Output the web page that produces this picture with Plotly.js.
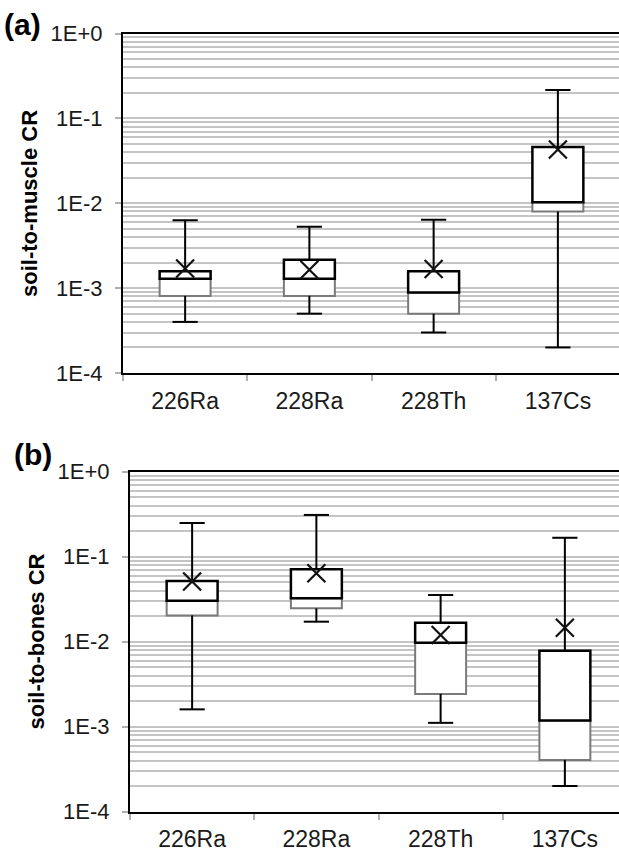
<!DOCTYPE html>
<html>
<head>
<meta charset="utf-8">
<script src="https://cdn.plot.ly/plotly-3.0.1.min.js"></script>
<style>
html,body{margin:0;padding:0;overflow:hidden;background:#fff;width:619px;height:853px;}
#chart{width:628px;height:853px;}
</style>
</head>
<body>
<div id="chart"></div>
<script>
// ---- data ----
const categories = ['226Ra', '228Ra', '228Th', '137Cs'];

// (a) soil-to-muscle CR
const muscleMin    = [4.0e-4, 5.0e-4, 3.0e-4, 2.0e-4];
const muscleQ1     = [8.1e-4, 8.1e-4, 5.0e-4, 8.0e-3];
const muscleMedian = [1.29e-3, 1.29e-3, 8.9e-4, 1.03e-2];
const muscleQ3     = [1.58e-3, 2.16e-3, 1.58e-3, 4.6e-2];
const muscleMax    = [6.3e-3, 5.3e-3, 6.4e-3, 0.216];
const muscleMean   = [1.7e-3, 1.65e-3, 1.68e-3, 4.3e-2];

// (b) soil-to-bones CR
const bonesMin    = [1.6e-3, 1.72e-2, 1.11e-3, 2.0e-4];
const bonesQ1     = [2.04e-2, 2.47e-2, 2.43e-3, 4.07e-4];
const bonesMedian = [3.03e-2, 3.24e-2, 9.7e-3, 1.18e-3];
const bonesQ3     = [5.18e-2, 7.1e-2, 1.67e-2, 7.8e-3];
const bonesMax    = [0.249, 0.31, 0.0354, 0.167];
const bonesMean   = [5.1e-2, 6.4e-2, 1.2e-2, 1.46e-2];

const yTickVals = [1e-4, 1e-3, 1e-2, 1e-1, 1];
const yTickText = ['1E-4', '1E-3', '1E-2', '1E-1', '1E+0'];

// ---- build traces ----
function panelTraces(mn, q1, med, q3, mx, mean, xa, ya) {
  const boxW = 0.41;
  const lower = {
    type: 'bar', x: categories, base: q1, y: q1.map((v, i) => med[i] - v),
    width: boxW, xaxis: xa, yaxis: ya, hoverinfo: 'skip',
    marker: {color: '#ffffff', line: {color: '#7a7a7a', width: 2}}
  };
  const upper = {
    type: 'bar', x: categories, base: med, y: med.map((v, i) => q3[i] - v),
    width: boxW, xaxis: xa, yaxis: ya, hoverinfo: 'skip',
    marker: {color: '#ffffff', line: {color: '#000000', width: 2.5}}
  };
  const wx = [], wy = [];
  categories.forEach((c, i) => {
    wx.push(c, c, null, c, c, null);
    wy.push(q3[i], mx[i], null, q1[i], mn[i], null);
  });
  const whiskers = {
    type: 'scatter', mode: 'lines', x: wx, y: wy, xaxis: xa, yaxis: ya,
    line: {color: '#000', width: 2}, hoverinfo: 'skip', connectgaps: false
  };
  const caps = {
    type: 'scatter', mode: 'markers', x: categories.concat(categories), y: mx.concat(mn),
    xaxis: xa, yaxis: ya, hoverinfo: 'skip',
    marker: {symbol: 'line-ew-open', size: 18, color: '#000', line: {color: '#000', width: 2}}
  };
  const means = {
    type: 'scatter', mode: 'markers', x: categories, y: mean, xaxis: xa, yaxis: ya,
    hoverinfo: 'skip',
    marker: {symbol: 'x-thin-open', size: 18, color: '#111', line: {color: '#111', width: 2.2}}
  };
  return [lower, upper, whiskers, caps, means];
}

const data = []
  .concat(panelTraces(muscleMin, muscleQ1, muscleMedian, muscleQ3, muscleMax, muscleMean, 'x', 'y'))
  .concat(panelTraces(bonesMin, bonesQ1, bonesMedian, bonesQ3, bonesMax, bonesMean, 'x2', 'y2'));

const W = 628, H = 853;
const fam = 'Liberation Sans, Arial, sans-serif';

function xAxis(d, anchor) {
  return {
    domain: d, anchor: anchor, type: 'category', range: [-0.5, 3.5],
    showline: true, linecolor: '#000', linewidth: 2, mirror: true,
    ticks: 'outside', tickson: 'boundaries', ticklen: 6, tickwidth: 2, tickcolor: '#b0b0b0',
    showgrid: false, tickfont: {family: fam, size: 23, color: '#1a1a1a'},
    ticklabelstandoff: 6, fixedrange: true
  };
}
function yAxis(d, anchor) {
  return {
    domain: d, anchor: anchor, type: 'log', range: [-4, 0],
    tickmode: 'array', tickvals: yTickVals, ticktext: yTickText,
    showline: true, linecolor: '#000', linewidth: 2, mirror: true,
    ticks: 'outside', ticklen: 6, tickwidth: 2, tickcolor: '#b0b0b0',
    showgrid: true, gridcolor: '#c4c4c4', gridwidth: 2,
    minor: {dtick: 'D1', showgrid: true, gridcolor: '#c4c4c4', gridwidth: 2, ticks: ''},
    tickfont: {family: fam, size: 22, color: '#1a1a1a'},
    ticklabelstandoff: 8, zeroline: false, fixedrange: true
  };
}

const layout = {
  width: W, height: H,
  margin: {l: 0, r: 0, t: 0, b: 0},
  paper_bgcolor: '#fff', plot_bgcolor: '#fff',
  showlegend: false, barmode: 'overlay',
  xaxis: xAxis([123 / W, 620 / W], 'y'),
  yaxis: yAxis([1 - 373 / H, 1 - 33.5 / H], 'x'),
  xaxis2: xAxis([130 / W, 627 / W], 'y2'),
  yaxis2: yAxis([1 - 811.7 / H, 1 - 471.7 / H], 'x2'),
  annotations: [
    {text: '<b>(a)</b>', xref: 'paper', yref: 'paper', x: 2 / W, y: 1 - 6 / H,
     xanchor: 'left', yanchor: 'top', showarrow: false,
     font: {family: fam, size: 30, color: '#000'}},
    {text: '<b>(b)</b>', xref: 'paper', yref: 'paper', x: 12 / W, y: 1 - 436 / H,
     xanchor: 'left', yanchor: 'top', showarrow: false,
     font: {family: fam, size: 30, color: '#000'}},
    {text: '<b>soil-to-muscle CR</b>', xref: 'paper', yref: 'paper', x: 29 / W, y: 1 - 204 / H,
     xanchor: 'center', yanchor: 'middle', textangle: -90, showarrow: false,
     font: {family: fam, size: 22, color: '#000'}},
    {text: '<b>soil-to-bones CR</b>', xref: 'paper', yref: 'paper', x: 36 / W, y: 1 - 641.5 / H,
     xanchor: 'center', yanchor: 'middle', textangle: -90, showarrow: false,
     font: {family: fam, size: 22, color: '#000'}}
  ]
};

Plotly.newPlot('chart', data, layout, {staticPlot: true, displayModeBar: false});
</script>
</body>
</html>
